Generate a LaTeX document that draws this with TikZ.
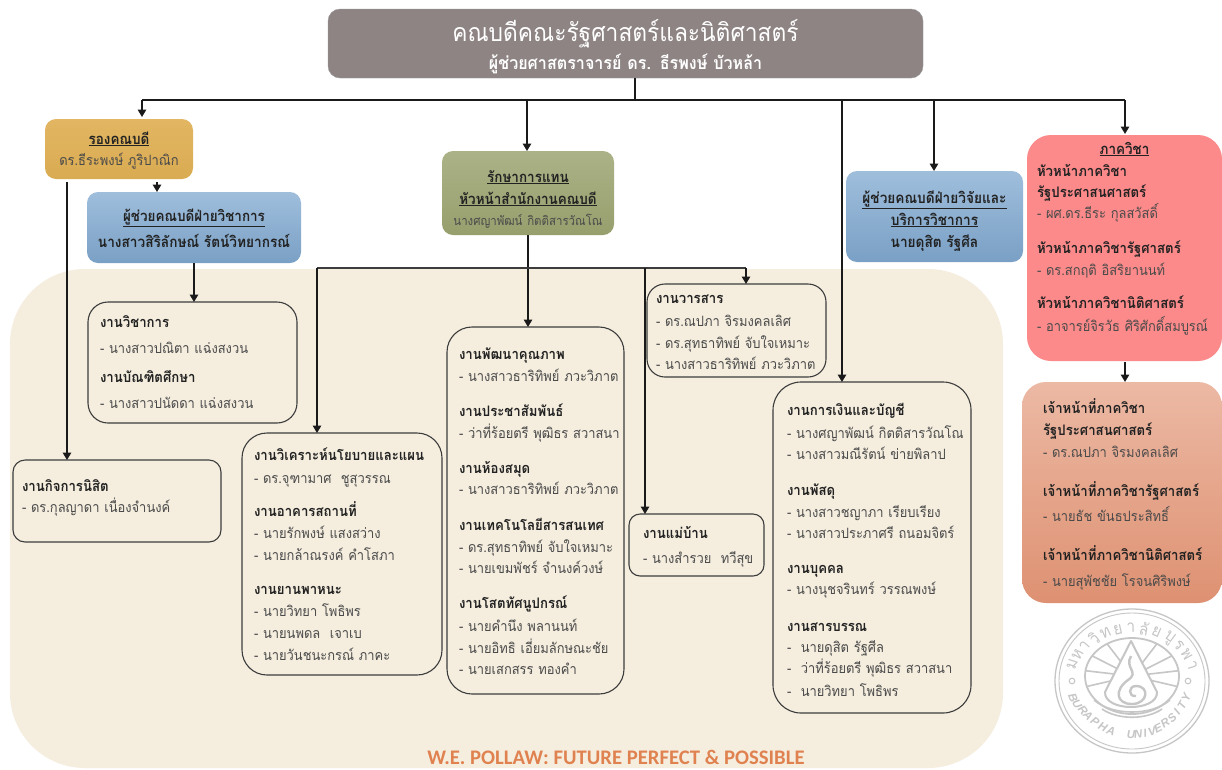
\documentclass[tikz,border=0pt]{standalone}
\usepackage{fontspec}
\setmainfont[Script=Thai,FakeStretch=0.91]{Loma}
\newfontfamily\footfont{Carlito}
\newfontfamily\sealfont{Liberation Sans}
\usetikzlibrary{arrows.meta}
\definecolor{panel}{HTML}{F5EEDF}
\definecolor{headc}{HTML}{222222}
\definecolor{namec}{HTML}{4A4A4A}
\definecolor{linec}{HTML}{1A1A1A}
\definecolor{sealc}{HTML}{C6C6C6}
\definecolor{deanc}{HTML}{8E8484}
\definecolor{golda}{HTML}{E2B662}
\definecolor{goldb}{HTML}{D9AB52}
\definecolor{bluea}{HTML}{9FBEDC}
\definecolor{blueb}{HTML}{7AA0C5}
\definecolor{olivea}{HTML}{ABB287}
\definecolor{oliveb}{HTML}{979F6D}
\definecolor{redc}{HTML}{FC8A8A}
\definecolor{salma}{HTML}{ECB9A4}
\definecolor{salmb}{HTML}{DE9172}
\definecolor{footc}{HTML}{E08250}
\newcommand{\TT}[3]{\rule{0pt}{#1pt}#3\rule[-#2pt]{0pt}{#2pt}}
\newcommand{\LT}[4]{\leftskip=#1pt\relax\TT{#2}{#3}{#4}\par}
\newcommand{\hd}[1]{{\fontsize{14.5}{21}\selectfont\bfseries\color{headc}#1}}
\newcommand{\hb}[1]{{\fontsize{15}{21}\selectfont\bfseries\color{headc}#1}}
\newcommand{\ul}[1]{{\fontsize{14.8}{21}\selectfont\bfseries\color{headc}\underline{#1}}}
\tikzset{
  geo/.style n args={5}{at={({(#1+#3)/2},{(#2+#4)/2})},minimum height={(#4-#2)*1pt},
     text width={(#3-#1-2*#5)*1pt},inner xsep=#5pt,inner ysep=0pt,outer sep=0pt},
  body/.style={font=\fontsize{14.2}{21}\selectfont,text=namec,align=left},
  card/.style={body,draw=linec!85,line width=1.1pt,fill=panel,rounded corners=#1},
  card/.default=22pt,
  head/.style={body,align=center,rounded corners=11pt},
  bluehead/.style={head,top color=bluea,bottom color=blueb},
  flow/.style={draw=linec,line width=1.5pt,-{Triangle[width=8.5pt,length=7.5pt]}},
  plain/.style={draw=linec,line width=1.5pt},
  thinflow/.style={draw=linec!85,line width=1.1pt},
  thinarrow/.style={draw=linec,line width=1.3pt,-{Triangle[width=8.5pt,length=7.5pt]}},
  seal/.style={draw=sealc,line width=1.3pt},
  sealt/.style={text=sealc,inner sep=0pt,font=\fontsize{17}{17}\selectfont},
  seall/.style={text=sealc,inner sep=0pt,font=\sealfont\bfseries\itshape\fontsize{11.5}{11.5}\selectfont},
}
\begin{document}
\begin{tikzpicture}[x=1pt,y=-1pt]
\useasboundingbox (0,0) rectangle (1222,769);
\fill[white] (0,0) rectangle (1222,769);
% background panel
\node[geo={10}{269}{1003}{768}{0},fill=panel,rounded corners=75pt] (panelbg) {};
% heads
\node[geo={328}{9}{923}{78}{10},draw=black!40,line width=.4pt,fill=deanc,rounded corners=12pt,align=center,text=white,font=\bfseries\fontsize{17.7}{28}\selectfont] (dean)
 {\TT{29}{6}{{\mdseries\fontsize{25}{28}\selectfont คณบดีคณะรัฐศาสตร์และนิติศาสตร์}\\ผู้ช่วยศาสตราจารย์ ดร. ธีรพงษ์ บัวหล้า}};
\node[geo={45}{119}{193}{179}{4},head,top color=golda,bottom color=goldb] (deputy)
 {\TT{17}{6}{\ul{รองคณบดี}\\ดร.ธีระพงษ์ ภูริปาณิก}};
\node[geo={87}{192}{301}{263}{4},bluehead] (asst)
 {\TT{19}{6}{\ul{ผู้ช่วยคณบดีฝ่ายวิชาการ}\\[5pt]\hb{นางสาวสิริลักษณ์ รัตน์วิทยากรณ์}}};
\node[geo={442}{151}{614}{235}{3},head,top color=olivea,bottom color=oliveb] (acting)
 {\TT{27}{6}{\ul{รักษาการแทน}\\[1pt]\ul{หัวหน้าสำนักงานคณบดี}\\{\fontsize{12.6}{21}\selectfont นางศญาพัฒน์ กิตติสารวัณโณ}}};
\node[geo={846}{171}{1023}{262}{4},bluehead] (research)
 {\TT{23}{6}{{\fontsize{15}{21}\selectfont\bfseries\color{headc}\underline{ผู้ช่วยคณบดีฝ่ายวิจัยและ}}\\[1pt]{\fontsize{15}{21}\selectfont\bfseries\color{headc}\underline{บริการวิชาการ}}\\[1pt]\hb{นายดุสิต รัฐศีล}}};
\node[geo={1027}{135}{1222}{361}{10},body,fill=redc,rounded corners=24pt] (dept)
 {\TT{17}{28}{\centerline{\ul{ภาควิชา}}\\[1pt]\hd{หัวหน้าภาควิชา}\\\hd{รัฐประศาสนศาสตร์}\\- ผศ.ดร.ธีระ กุลสวัสดิ์\\[14pt]\hd{หัวหน้าภาควิชารัฐศาสตร์}\\[1pt]- ดร.สกฤติ อิสริยานนท์\\[12pt]\hd{หัวหน้าภาควิชานิติศาสตร์}\\[2pt]- อาจารย์จิรวัธ ศิริศักดิ์สมบูรณ์}};
\node[geo={1022}{382}{1222}{603}{21},body,top color=salma,bottom color=salmb,rounded corners=24pt] (officer)
 {\TT{20}{6}{\hd{เจ้าหน้าที่ภาควิชา}\\[1pt]\hd{รัฐประศาสนศาสตร์}\\[1pt]- ดร.ณปภา จิรมงคลเลิศ\\[18pt]\hd{เจ้าหน้าที่ภาควิชารัฐศาสตร์}\\[4pt]- นายธัช ขันธประสิทธิ์\\[18pt]\hd{เจ้าหน้าที่ภาควิชานิติศาสตร์}\\[5pt]- นายสุพัชชัย โรจนศิริพงษ์}};
% cards
\node[geo={88}{302}{297}{423}{2},card=20pt] (acad)
 {\LT{10}{16}{6}{\hd{งานวิชาการ}\\[5pt]- นางสาวปณิตา แฉ่งสงวน\\[8pt]\hd{งานบัณฑิตศึกษา}\\[5pt]- นางสาวปนัดดา แฉ่งสงวน}};
\node[geo={13}{460}{221}{542}{2},card=12pt] (student)
 {\LT{7}{16}{15}{\hd{งานกิจการนิสิต}\\- ดร.กุลญาดา เนื่องจำนงค์}};
\node[geo={242}{433}{442}{675}{2},card=25pt] (policy)
 {\LT{10}{18}{6}{\hd{งานวิเคราะห์นโยบายและแผน}\\[2pt]- ดร.จุฑามาศ~~ชูสุวรรณ\\[12pt]\hd{งานอาคารสถานที่}\\[1pt]- นายรักพงษ์ แสงสว่าง\\[1pt]- นายกล้าณรงค์ คำโสภา\\[13pt]\hd{งานยานพาหนะ}\\[1pt]- นายวิทยา โพธิพร\\[1pt]- นายนพดล~~เจาเบ\\[1pt]- นายวันชนะกรณ์ ภาคะ}};
\node[geo={447}{327}{624}{694}{2},card=25pt] (quality)
 {\LT{10}{18}{6}{\hd{งานพัฒนาคุณภาพ}\\[1pt]- นางสาวธาริทิพย์ ภวะวิภาต\\[14pt]\hd{งานประชาสัมพันธ์}\\[1pt]- ว่าที่ร้อยตรี พุฒิธร สวาสนา\\[14pt]\hd{งานห้องสมุด}\\- นางสาวธาริทิพย์ ภวะวิภาต\\[15pt]\hd{งานเทคโนโลยีสารสนเทศ}\\[1pt]- ดร.สุทธาทิพย์ จับใจเหมาะ\\- นายเขมพัชร์ จำนงค์วงษ์\\[14pt]\hd{งานโสตทัศนูปกรณ์}\\[2pt]- นายคำนึง พลานนท์\\[1pt]- นายอิทธิ เอี่ยมลักษณะชัย\\- นายเสกสรร ทองคำ}};
\node[geo={647}{284}{826}{377}{2},card=18pt] (journal)
 {\LT{7}{17}{6}{\hd{งานวารสาร}\\[2pt]- ดร.ณปภา จิรมงคลเลิศ\\[1pt]- ดร.สุทธาทิพย์ จับใจเหมาะ\\- นางสาวธาริทิพย์ ภวะวิภาต}};
\node[geo={629}{514}{764}{576}{2},card=11pt] (house)
 {\LT{12}{17}{6}{\hd{งานแม่บ้าน}\\[4pt]- นางสำรวย~~ทวีสุข}};
\node[geo={773}{382}{971}{713}{2},card=28pt] (finance)
 {\LT{12}{22}{6}{\hd{งานการเงินและบัญชี}\\[2pt]- นางศญาพัฒน์ กิตติสารวัณโณ\\- นางสาวมณีรัตน์ ข่ายพิลาป\\[15pt]\hd{งานพัสดุ}\\[1pt]- นางสาวชญาภา เรียบเรียง\\- นางสาวประภาศรี ถนอมจิตร์\\[14pt]\hd{งานบุคคล}\\- นางนุชจรินทร์ วรรณพงษ์\\[16pt]\hd{งานสารบรรณ}\\-~~นายดุสิต รัฐศีล\\-~~ว่าที่ร้อยตรี พุฒิธร สวาสนา\\[2pt]-~~นายวิทยา โพธิพร}};
\node[text=footc,inner sep=0pt,font=\footfont\bfseries\fontsize{20.7}{22}\selectfont] (motto) at (616,757) {W.E. POLLAW: FUTURE PERFECT \& POSSIBLE};
% bus
\coordinate (busC) at (635,100);
\coordinate (busL) at (142,100);
\coordinate (busA) at (527,100);
\coordinate (busF) at (842,100);
\coordinate (busS) at (934,100);
\coordinate (busR) at (1125,100);
\coordinate (stuX) at (67,460);
\coordinate (astX) at (157,192);
\coordinate (hubL) at (317,268);
\coordinate (hubJ) at (746,268);
\coordinate (hubH) at (645,268);
\draw[plain,line width=2.6pt] (dean.south -| busC) -- (busC);
\draw[plain] (busL) -- (busR);
\draw[flow,shorten >=2pt] (busL) -- (busL |- deputy.north);
\draw[flow] (busA) -- (busA |- acting.north);
\draw[flow] (busF) -- (busF |- finance.north);
\draw[flow] (busS) -- (busS |- research.north);
\draw[flow,shorten >=1pt] (busR) -- (busR |- dept.north);
\draw[flow,shorten <=3pt] (deputy.south -| stuX) -- (stuX |- student.north);
\draw[flow,shorten <=3pt] (deputy.south -| astX) -- (astX |- asst.north);
\draw[flow] (asst.south) -- (asst.south |- acad.north);
\draw[thinarrow] (acting.south) -- (acting.south |- quality.north);
\draw[thinflow] (hubL) -- (hubJ);
\draw[thinarrow] (hubL) -- (hubL |- policy.north);
\draw[thinarrow] (hubJ) -- (hubJ |- journal.north);
\draw[thinarrow] (hubH) -- (hubH |- house.north);
\draw[flow,shorten <=1pt] (dept.south -| busR) -- (busR |- officer.north);
% university seal
\draw[seal] (1132,681) ellipse [x radius=77,y radius=72];
\draw[seal,line width=.9pt] (1132,681) ellipse [x radius=73,y radius=68];
\draw[seal,line width=1.8pt] (1132,676) ellipse [x radius=47,y radius=38];
\foreach \a in {8,32,58,122,148,172,196,344}
  \draw[seal,line width=1.6pt] ({1132+15*cos(\a)},{676-12*sin(\a)}) -- ({1132+47*cos(\a)},{676-38*sin(\a)});
\fill[white] (1131,641) -- (1105,692) .. controls (1104,712) and (1158,712) .. (1157,692) -- cycle;
\draw[seal,line width=2pt,line join=round] (1131,641) -- (1105,692) .. controls (1104,712) and (1158,712) .. (1157,692) -- cycle;
\draw[seal,line width=2.4pt] (1131,656) .. controls (1124,668) and (1140,672) .. (1128,680) .. controls (1114,690) and (1116,704) .. (1132,704) .. controls (1148,704) and (1150,686) .. (1136,686) .. controls (1128,686) and (1128,697) .. (1136,696);
\draw[seal,line width=1.6pt] (1094,700) .. controls (1112,716) and (1152,716) .. (1170,700);
\draw[seal,line width=1.6pt] (1102,709) .. controls (1118,720) and (1146,720) .. (1162,709);
\foreach \a/\t in {162/ม,150/ห,139/า,127/วิ,115/ท,103/ย,91/า,79/ลั,67/ย,54/บู,42/ร,30/พ,17/า}
  \node[sealt,rotate=\a-90] (th\a) at ({1132+63*cos(\a)},{681-53*sin(\a)}) {\t};
\foreach \i/\x/\y/\r/\t in {1/1073/698/-68/B,2/1077/704/-60/U,3/1083/710/-52/R,4/1088/716/-45/A,5/1095/722/-37/P,6/1103/727/-28/H,7/1111/731/-18/A,8/1131/735/0/U,9/1138/734/6/N,10/1145/733/12/I,11/1152/732/18/V,12/1158/728/26/E,13/1165/723/34/R,14/1172/718/44/S,15/1177/712/52/I,16/1182/705/60/T,17/1186/697/68/Y}
  \node[seall,rotate=\r] (la\i) at (\x,\y) {\t};
\node[seal,circle,inner sep=2pt,line width=1pt] (dotl) at (1072,681) {};
\node[seal,circle,inner sep=2pt,line width=1pt] (dotr) at (1188,681) {};
\end{tikzpicture}
\end{document}
